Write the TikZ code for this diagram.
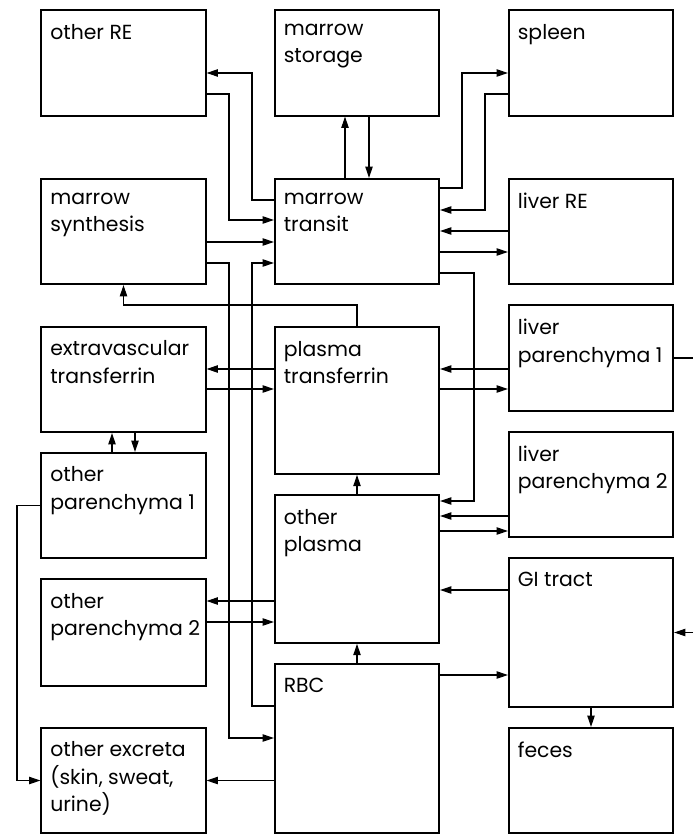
\documentclass[tikz,border=0pt]{standalone}
\usepackage{fontspec}
\setmainfont{Poppins}
\usetikzlibrary{arrows.meta}

\begin{document}
\begin{tikzpicture}[x=0.02cm, y=-0.02cm, >={Triangle[length=6.5pt,width=4.2pt]}, font=\fontsize{11.6}{15.5}\selectfont]
	\tikzset{box/.style={draw, line width=0.9pt, minimum width=3.29cm, minimum height=2.11cm, inner sep=0pt},
		lbl/.style={anchor=north west, align=left, inner xsep=0.19cm, inner ysep=0.29cm},
		conn/.style={->, line width=0.6pt}}
	\useasboundingbox (0,0) rectangle (693,834);
	% compartments
	\node[box, label={[lbl]north west:other RE}] (ore) at (123.5,63) {};
	\node[box, label={[lbl]north west:marrow\\storage}] (mstor) at (357,63) {};
	\node[box, label={[lbl]north west:spleen}] (spl) at (591,63) {};
	\node[box, label={[lbl]north west:marrow\\synthesis}] (msyn) at (123.5,231.5) {};
	\node[box, label={[lbl]north west:marrow\\transit}] (mtr) at (357,231.5) {};
	\node[box, label={[lbl]north west:liver RE}] (lre) at (591,231.5) {};
	\node[box, label={[lbl]north west:extravascular\\transferrin}] (evt) at (123.5,379.5) {};
	\node[box, minimum height=2.94cm, label={[lbl]north west:plasma\\transferrin}] (ptf) at (357,400.5) {};
	\node[box, label={[lbl]north west:liver\\parenchyma 1}] (lp1) at (591,358) {};
	\node[box, label={[lbl]north west:liver\\parenchyma 2}] (lp2) at (591,484.5) {};
	\node[box, label={[lbl]north west:other\\parenchyma 1}] (op1) at (123.5,505.5) {};
	\node[box, minimum height=2.96cm, label={[lbl]north west:other\\plasma}] (opl) at (357,569) {};
	\node[box, minimum height=2.98cm, label={[lbl]north west:GI tract}] (gi) at (591,632.5) {};
	\node[box, minimum height=2.13cm, label={[lbl]north west:other\\parenchyma 2}] (op2) at (123.5,632.5) {};
	\node[box, minimum height=3.38cm, label={[lbl]north west:RBC}] (rbc) at (357,748.5) {};
	\node[box, label={[lbl]north west:{other excreta\\(skin, sweat,\\urine)}}] (oex) at (123.5,780.5) {};
	\node[box, label={[lbl]north west:feces}] (fec) at (591,780.5) {};
	\coordinate (lpout) at (693,358);
	\coordinate (giin) at (693,632.5);
	% marrow
	\draw[conn] (mtr.west |- 0,200) -| (252,73) -- (ore.east |- 0,73);
	\draw[conn] (ore.east |- 0,94) -| (229,220) -- (mtr.west |- 0,220);
	\draw[conn] (msyn.east |- 0,242) -- (mtr.west |- 0,242);
	\draw[conn] (msyn.east |- 0,263) -| (229,738) -- (rbc.west |- 0,738);
	\draw[conn] (rbc.west |- 0,706) -| (252,263) -- (mtr.west |- 0,263);
	\draw[conn] (mtr.north -| 345,0) -- (mstor.south -| 345,0);
	\draw[conn] (mstor.south -| 369,0) -- (mtr.north -| 369,0);
	\draw[conn] (mtr.east |- 0,188) -| (462,73) -- (spl.west |- 0,73);
	\draw[conn] (spl.west |- 0,94) -| (485,210) -- (mtr.east |- 0,210);
	\draw[conn] (lre.west |- 0,231) -- (mtr.east |- 0,231);
	\draw[conn] (mtr.east |- 0,252) -- (lre.west |- 0,252);
	\draw[conn] (mtr.east |- 0,273) -| (474,501) -- (opl.east |- 0,501);
	% plasma
	\draw[conn] (ptf.north) |- (msyn.south |- 0,305) -- (msyn.south);
	\draw[conn] (ptf.west |- 0,369) -- (evt.east |- 0,369);
	\draw[conn] (evt.east |- 0,389) -- (ptf.west |- 0,389);
	\draw[conn] (lp1.west |- 0,369) -- (ptf.east |- 0,369);
	\draw[conn] (ptf.east |- 0,389) -- (lp1.west |- 0,389);
	\draw[line width=0.6pt] (lp1.east) -- (lpout);
	\draw[conn] (op1.north -| 112,0) -- (evt.south -| 112,0);
	\draw[conn] (evt.south -| 135,0) -- (op1.north -| 135,0);
	\draw[conn] (op1.west) -| (17,780.5) -- (oex.west);
	\draw[conn] (opl.north) -- (ptf.south);
	\draw[conn] (lp2.west |- 0,516) -- (opl.east |- 0,516);
	\draw[conn] (opl.east |- 0,531) -- (lp2.west |- 0,531);
	\draw[conn] (gi.west |- 0,590) -- (opl.east |- 0,590);
	\draw[conn] (opl.west |- 0,601) -- (op2.east |- 0,601);
	\draw[conn] (op2.east |- 0,622) -- (opl.west |- 0,622);
	% red cells and losses
	\draw[conn] (rbc.north) -- (opl.south);
	\draw[conn] (rbc.east |- 0,675) -- (gi.west |- 0,675);
	\draw[conn] (gi.south) -- (fec.north);
	\draw[conn] (rbc.west |- 0,780.5) -- (oex.east);
	\draw[conn] (giin) -- (gi.east);
\end{tikzpicture}
\end{document}
